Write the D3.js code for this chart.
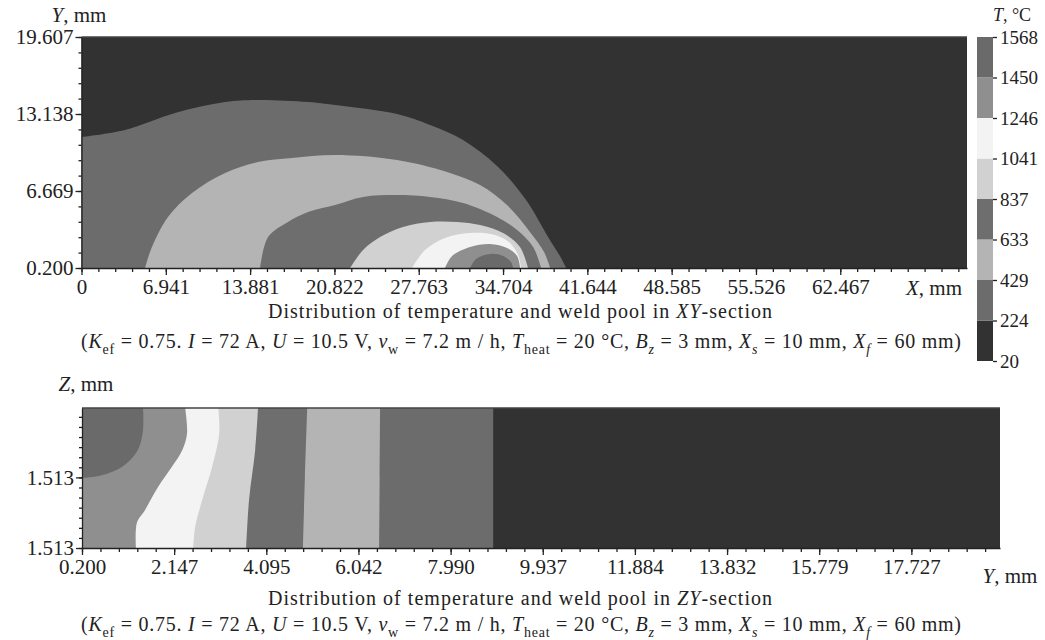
<!DOCTYPE html>
<html>
<head>
<meta charset="utf-8">
<script src="https://d3js.org/d3.v7.min.js"></script>
<style>
    body { margin: 0; background: #fff; }
    svg text { font-family: "Liberation Serif", "DejaVu Serif", serif; fill: #222; }
    .axis path, .axis line { stroke: #222; stroke-width: 1.3px; }
    .axis text { font-size: 21px; font-family: "Liberation Serif", serif; fill: #222; }
</style>
</head>
<body>
<script>
    // temperature levels (colour bar) and band colours, lowest band first
    var levels = [20, 224, 429, 633, 837, 1041, 1246, 1450, 1568];
    var bandColors = ["#323232", "#6c6c6c", "#b4b4b4", "#6e6e6e", "#d1d1d1", "#f3f3f3", "#8f8f8f", "#6a6a6a"];

    // tick labels
    var xTicks = [0, 6.941, 13.881, 20.822, 27.763, 34.704, 41.644, 48.585, 55.526, 62.467];
    var xTickLabels = ["0", "6.941", "13.881", "20.822", "27.763", "34.704", "41.644", "48.585", "55.526", "62.467"];
    var yTicks = [0.2, 6.669, 13.138, 19.607];
    var yTickLabels = ["0.200", "6.669", "13.138", "19.607"];
    var yzTicks = [0.2, 2.147, 4.095, 6.042, 7.990, 9.937, 11.884, 13.832, 15.779, 17.727];
    var yzTickLabels = ["0.200", "2.147", "4.095", "6.042", "7.990", "9.937", "11.884", "13.832", "15.779", "17.727"];
    var zTicks = [0, 1.513];
    var zTickLabels = ["1.513", "1.513"];

    // XY-section isotherms, [X mm, Y mm], one per level 224 ... 1450
    var xy224 = [[0, 11.21], [3.58, 11.8], [7.7, 13.23], [11.82, 14.15], [14.53, 14.32], [18.65, 14.15],
        [20.87, 13.9], [25.98, 13.14], [28.7, 12.22], [31.41, 10.96], [34.21, 8.77], [36.6, 5.91],
        [38.41, 2.81], [39.48, 1.04], [39.9, 0.2]];
    var xy429 = [[5.23, 0.2], [5.8, 1.96], [7.12, 4.49], [9.1, 6.5], [11.82, 8.18], [14.53, 9.11],
        [17.33, 9.44], [20.87, 9.7], [25.98, 9.28], [30.09, 8.27], [32.81, 7.17], [35.03, 5.49],
        [36.92, 3.23], [38.08, 1.54], [38.58, 0.2]];
    var xy633 = [[14.7, 0.2], [15.36, 2.8], [17.0, 4.07], [18.65, 4.9], [20.87, 5.49], [23.18, 6.17],
        [25.98, 6.33], [28.7, 6.17], [31.41, 5.66], [34.21, 4.49], [35.86, 3.39], [37.18, 1.96], [37.84, 0.2]];
    var xy837 = [[22.11, 0.2], [23.18, 1.71], [24.58, 2.8], [26.47, 3.65], [28.7, 4.07], [30.92, 4.07],
        [32.81, 3.81], [34.71, 3.14], [36.1, 1.96], [36.76, 0.2]];
    var xy1041 = [[27.21, 0.2], [28.28, 1.71], [29.93, 2.72], [31.99, 3.14], [34.05, 2.97], [35.28, 2.3],
        [35.94, 1.29], [36.19, 0.2]];
    var xy1246 = [[29.93, 0.2], [30.51, 1.21], [31.99, 1.96], [33.64, 2.22], [35.03, 1.88], [35.86, 1.21], [36.11, 0.2]];
    var xy1450 = [[31.99, 0.2], [32.48, 0.96], [33.64, 1.38], [34.71, 1.21], [35.36, 0.7], [35.53, 0.2]];

    // ZY-section isotherms, [Y mm, Z mm]
    var zy224 = [[8.89, 0], [8.89, 3]];
    var zy429 = [[6.48, 0], [6.49, 1.5], [6.5, 3]];
    var zy633 = [[4.87, 0], [4.91, 1.5], [4.96, 3]];
    var zy837 = [[3.67, 0], [3.73, 1.03], [3.86, 2.1], [3.92, 3]];
    var zy1041 = [[2.55, 0], [2.59, 0.45], [2.74, 1.03], [2.95, 1.74], [3.1, 2.46], [3.08, 3]];
    var zy1246 = [[1.34, 0], [1.36, 0.54], [1.53, 0.81], [1.81, 1.31], [2.1, 1.74], [2.32, 2.1], [2.42, 2.46], [2.38, 3]];
    var zy1450 = [[0.2, 1.5], [0.62, 1.56], [1.05, 1.74], [1.38, 2.1], [1.49, 2.53], [1.49, 3]];

    var svg = d3.select("body").append("svg")
        .attr("width", 1045)
        .attr("height", 640);

    function caption(parts, x, y, size, len) {
        var t = svg.append("text").attr("x", x).attr("y", y)
            .attr("text-anchor", "middle").style("font-size", size + "px")
            .attr("textLength", len).attr("lengthAdjust", "spacing");
        var shift = 0;
        parts.forEach(function (p) {
            var st = p[1] || "";
            var s = t.append("tspan").text(p[0]);
            if (st.indexOf("it") >= 0) s.style("font-style", "italic");
            var want = st.indexOf("sub") >= 0 ? size * 0.28 : 0;
            if (want !== shift) { s.attr("dy", want - shift); shift = want; }
            if (st.indexOf("sub") >= 0) s.style("font-size", (size * 0.7) + "px");
        });
        return t;
    }

    var params = [["("], ["K", "it"], ["ef", "sub"], [" = 0.75. "], ["I", "it"], [" = 72 A, "], ["U", "it"],
        [" = 10.5 V, "], ["v", "it"], ["w", "sub"], [" = 7.2 m / h, "], ["T", "it"], ["heat", "sub"],
        ["  = 20 °C, "], ["B", "it"], ["z", "itsub"], [" = 3 mm, "], ["X", "it"], ["s", "itsub"],
        [" = 10 mm, "], ["X", "it"], ["f", "itsub"], [" = 60 mm)"]];

    function minorTicks(g, axisFn, scale, values, size) {
        g.append("g").attr("class", "axis")
            .call(axisFn(scale).tickValues(values).tickSize(size).tickFormat(""))
            .select(".domain").remove();
    }

    // ---------- XY section ----------
    var x = d3.scaleLinear().domain([0, 72.9]).range([81.5, 967]);
    var y = d3.scaleLinear().domain([0.2, 19.607]).range([268, 37]);

    var gTop = svg.append("g");
    gTop.append("rect")
        .attr("x", x(0)).attr("y", y(19.607))
        .attr("width", x(72.9) - x(0)).attr("height", y(0.2) - y(19.607))
        .attr("fill", bandColors[0]);

    var areaXY = d3.area()
        .x(function (d) { return x(d[0]); })
        .y0(y(0.2))
        .y1(function (d) { return y(d[1]); })
        .curve(d3.curveCatmullRom);

    [xy224, xy429, xy633, xy837, xy1041, xy1246, xy1450].forEach(function (pts, i) {
        gTop.append("path").datum(pts).attr("d", areaXY).attr("fill", bandColors[i + 1]);
    });

    gTop.append("line").attr("x1", x(0)).attr("x2", x(72.9)).attr("y1", y(19.607)).attr("y2", y(19.607))
        .attr("stroke", "#444").attr("stroke-width", 1.5);

    var gx = gTop.append("g").attr("transform", "translate(0," + y(0.2) + ")");
    gx.append("g").attr("class", "axis")
        .call(d3.axisBottom(x).tickValues(xTicks).tickSize(7).tickPadding(4).tickSizeOuter(0)
            .tickFormat(function (d, i) { return xTickLabels[i]; }));
    minorTicks(gx, d3.axisBottom, x, d3.range(0, 72.9, 6.941 / 5), 4);

    var gy = gTop.append("g").attr("transform", "translate(" + x(0) + ",0)");
    gy.append("g").attr("class", "axis")
        .call(d3.axisLeft(y).tickValues(yTicks).tickSize(6).tickPadding(2).tickSizeOuter(0)
            .tickFormat(function (d, i) { return yTickLabels[i]; }));
    minorTicks(gy, d3.axisLeft, y, d3.range(0.2, 19.7, 6.469 / 5), 3);

    gTop.append("text").attr("x", 79).attr("y", 22).attr("text-anchor", "middle").style("font-size", "21px")
        .html('<tspan font-style="italic">Y</tspan>, mm');
    gTop.append("text").attr("x", 934).attr("y", 295).attr("text-anchor", "middle").style("font-size", "21px")
        .html('<tspan font-style="italic">X</tspan>, mm');

    caption([["Distribution of temperature and weld pool in "], ["XY", "it"], ["-section"]], 520, 318, 20, 504);
    caption(params, 521, 348, 20, 880);

    // ---------- colour bar ----------
    var cb = d3.scalePoint().domain(levels).range([361, 37]);
    var bar = svg.append("g");
    bandColors.forEach(function (c, i) {
        bar.append("rect")
            .attr("x", 977).attr("width", 16)
            .attr("y", cb(levels[i + 1]))
            .attr("height", cb(levels[i]) - cb(levels[i + 1]))
            .attr("fill", c);
    });
    var gcb = bar.append("g").attr("class", "axis").attr("transform", "translate(993,0)")
        .call(d3.axisRight(cb).tickSize(4).tickPadding(3).tickSizeOuter(0));
    gcb.select(".domain").remove();
    gcb.selectAll("text").style("font-size", "19px");
    bar.append("text").attr("x", 1012).attr("y", 21).attr("text-anchor", "middle").style("font-size", "18px")
        .html('<tspan font-style="italic">T</tspan>, °C');

    // ---------- ZY section ----------
    var yz = d3.scaleLinear().domain([0.2, 19.6]).range([82, 1000]);
    var z = d3.scaleLinear().domain([0, 3]).range([548, 408]);

    var gBot = svg.append("g");
    gBot.append("rect")
        .attr("x", yz(0.2)).attr("y", z(3))
        .attr("width", yz(19.6) - yz(0.2)).attr("height", z(0) - z(3))
        .attr("fill", bandColors[0]);

    var areaZY = d3.area()
        .y(function (d) { return z(d[1]); })
        .x0(yz(0.2))
        .x1(function (d) { return yz(d[0]); })
        .curve(d3.curveCatmullRom);

    [zy224, zy429, zy633, zy837, zy1041, zy1246, zy1450].forEach(function (pts, i) {
        gBot.append("path").datum(pts).attr("d", areaZY).attr("fill", bandColors[i + 1]);
    });

    gBot.append("line").attr("x1", yz(0.2)).attr("x2", yz(19.6)).attr("y1", z(3)).attr("y2", z(3))
        .attr("stroke", "#444").attr("stroke-width", 1.5);

    var gb = gBot.append("g").attr("transform", "translate(0," + z(0) + ")");
    gb.append("g").attr("class", "axis")
        .call(d3.axisBottom(yz).tickValues(yzTicks).tickSize(7).tickPadding(4).tickSizeOuter(0)
            .tickFormat(function (d, i) { return yzTickLabels[i]; }));
    minorTicks(gb, d3.axisBottom, yz, d3.range(0.2, 19.6, 1.9475 / 5), 4);

    var gz = gBot.append("g").attr("transform", "translate(" + yz(0.2) + ",0)");
    gz.append("g").attr("class", "axis")
        .call(d3.axisLeft(z).tickValues(zTicks).tickSize(6).tickPadding(2).tickSizeOuter(0)
            .tickFormat(function (d, i) { return zTickLabels[i]; }));
    minorTicks(gz, d3.axisLeft, z, d3.range(0, 3, 1.513 / 7), 3);

    gBot.append("text").attr("x", 86).attr("y", 391).attr("text-anchor", "middle").style("font-size", "21px")
        .html('<tspan font-style="italic">Z</tspan>, mm');
    gBot.append("text").attr("x", 1010).attr("y", 583).attr("text-anchor", "middle").style("font-size", "21px")
        .html('<tspan font-style="italic">Y</tspan>, mm');

    caption([["Distribution of temperature and weld pool in "], ["ZY", "it"], ["-section"]], 520, 605, 20, 504);
    caption(params, 521, 631, 20, 880);
</script>
</body>
</html>
